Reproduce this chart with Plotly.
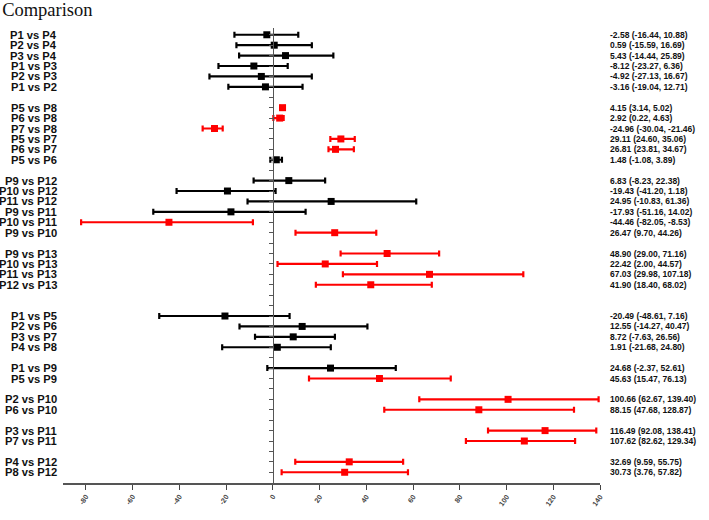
import plotly.graph_objects as go

# comparisons, grouped as in the figure
groups = [
    ["P1 vs P4", "P2 vs P4", "P3 vs P4", "P1 vs P3", "P2 vs P3", "P1 vs P2"],
    ["P5 vs P8", "P6 vs P8", "P7 vs P8", "P5 vs P7", "P6 vs P7", "P5 vs P6"],
    ["P9 vs P12", "P10 vs P12", "P11 vs P12", "P9 vs P11", "P10 vs P11", "P9 vs P10"],
    ["P9 vs P13", "P10 vs P13", "P11 vs P13", "P12 vs P13"],
    ["P1 vs P5", "P2 vs P6", "P3 vs P7", "P4 vs P8"],
    ["P1 vs P9", "P5 vs P9"],
    ["P2 vs P10", "P6 vs P10"],
    ["P3 vs P11", "P7 vs P11"],
    ["P4 vs P12", "P8 vs P12"],
]

mean_diff = [
    -2.58, 0.59, 5.43, -8.12, -4.92, -3.16,
    4.15, 2.92, -24.96, 29.11, 26.81, 1.48,
    6.83, -19.43, 24.95, -17.93, -44.46, 26.47,
    48.90, 22.42, 67.03, 41.90,
    -20.49, 12.55, 8.72, 1.91,
    24.68, 45.63,
    100.66, 88.15,
    116.49, 107.62,
    32.69, 30.73,
]
ci_low = [
    -16.44, -15.59, -14.44, -23.27, -27.13, -19.04,
    3.14, 0.22, -30.04, 24.60, 23.81, -1.08,
    -8.23, -41.20, -10.83, -51.16, -82.05, 9.70,
    29.00, 2.00, 29.98, 18.40,
    -48.61, -14.27, -7.63, -21.68,
    -2.37, 15.47,
    62.67, 47.68,
    92.08, 82.62,
    9.59, 3.76,
]
ci_high = [
    10.88, 16.69, 25.89, 6.36, 16.67, 12.71,
    5.02, 4.63, -21.46, 35.06, 34.67, 3.89,
    22.38, 1.18, 61.36, 14.02, -8.53, 44.26,
    71.16, 44.57, 107.18, 68.02,
    7.16, 40.47, 26.56, 24.80,
    52.61, 76.13,
    139.40, 128.87,
    138.41, 129.34,
    55.75, 57.82,
]

x_ticks = [-80, -60, -40, -20, 0, 20, 40, 60, 80, 100, 120, 140]

# empty rows between groups
gaps = [1, 1, 1, 2, 1, 1, 1, 1]

labels = [lab for g in groups for lab in g]
rows = []
pos = 0
for i, g in enumerate(groups):
    for _ in g:
        rows.append(pos)
        pos += 1
    if i < len(gaps):
        pos += gaps[i]
n_slots = rows[-1] + 1

RED = "#ff0000"
BLACK = "#000000"

fig = go.Figure()
for color, sig in [(BLACK, False), (RED, True)]:
    idx = [i for i in range(len(labels))
           if (ci_low[i] > 0 or ci_high[i] < 0) == sig]
    fig.add_trace(go.Scatter(
        x=[mean_diff[i] for i in idx],
        y=[rows[i] for i in idx],
        mode="markers",
        marker=dict(symbol="square", size=7, color=color),
        error_x=dict(
            type="data", symmetric=False,
            array=[ci_high[i] - mean_diff[i] for i in idx],
            arrayminus=[mean_diff[i] - ci_low[i] for i in idx],
            color=color, thickness=2.2, width=3,
        ),
        showlegend=False,
        cliponaxis=False,
    ))

x_range = [-89.8, 140.0]
zero_pos = (0 - x_range[0]) / (x_range[1] - x_range[0])

annotations = []
for lab, r in zip(labels, rows):
    annotations.append(dict(
        x=-0.007, xref="paper", y=r, yref="y", text=lab,
        showarrow=False, xanchor="right", yanchor="middle",
        font=dict(family="Liberation Sans, Arial", size=11.2, color="#111", weight="bold"),
    ))
for m, lo, hi, r in zip(mean_diff, ci_low, ci_high, rows):
    annotations.append(dict(
        x=1.0157, xref="paper", y=r, yref="y",
        text=f"{m:.2f} ({lo:.2f}, {hi:.2f})",
        showarrow=False, xanchor="left", yanchor="middle",
        font=dict(family="Liberation Sans, Arial", size=8.5, color="#111", weight="bold"),
    ))
annotations.append(dict(
    x=1.018, xref="paper", y=-2.05, yref="y", text="Mean Difference",
    showarrow=False, xanchor="left", yanchor="middle",
    font=dict(family="Liberation Sans, Arial", size=11.8, color="#111", weight="bold"),
))

fig.update_layout(
    width=709, height=520,
    margin=dict(l=63, r=109, t=28, b=25),
    paper_bgcolor="white", plot_bgcolor="white",
    title=dict(
        text="Comparison", x=0.003, xanchor="left", xref="container",
        y=1 - 9.5 / 520, yanchor="middle", yref="container",
        font=dict(family="Liberation Serif", size=18.5, color="#111"),
    ),
    annotations=annotations,
    xaxis=dict(
        range=x_range, tickvals=x_ticks, ticktext=[str(t) for t in x_ticks],
        showgrid=False, zeroline=False,
        showline=True, linecolor="#555", linewidth=1.5,
        ticks="outside", ticklen=5, tickcolor="#444", tickwidth=1.2,
        tickangle=-55,
        tickfont=dict(family="Liberation Sans, Arial", size=7.2, color="#444", weight="bold"),
    ),
    yaxis=dict(
        range=[43.03, -0.65], anchor="free", position=zero_pos,
        tickvals=list(range(n_slots)), showticklabels=False,
        showgrid=False, zeroline=False,
        showline=True, linecolor="#555", linewidth=1.3,
        ticks="outside", ticklen=4, tickcolor="#555", tickwidth=1.2,
    ),
)

# drop the default body margin so the figure sits at the window's corner
fig.write_html(
    "out.html",
    config={"displayModeBar": False},
    post_script="document.body.style.margin='0';",
)
